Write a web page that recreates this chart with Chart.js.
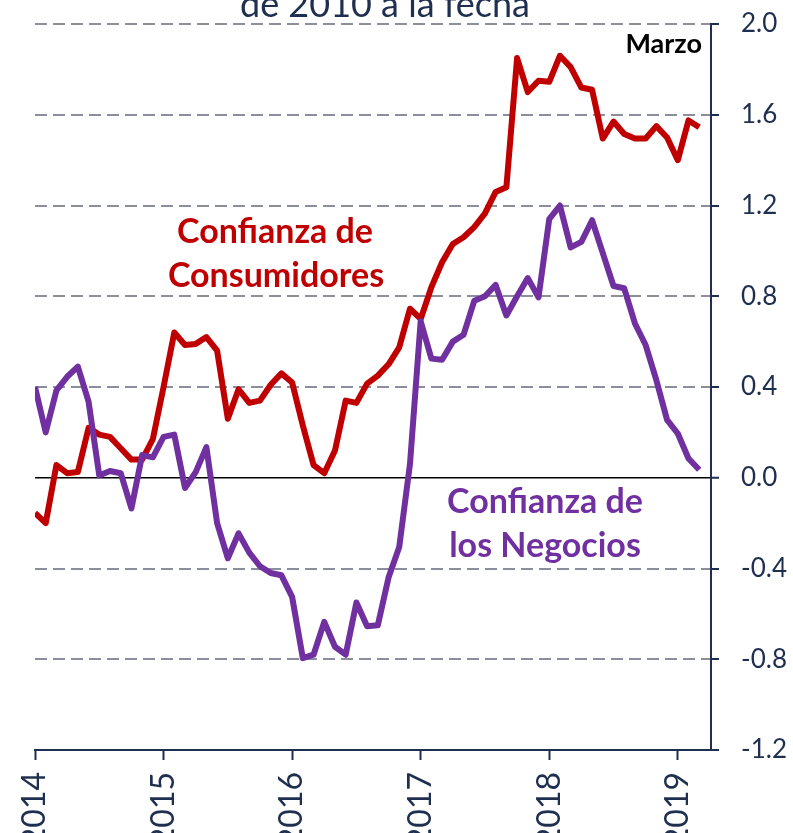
<!DOCTYPE html>
<html>
<head>
<meta charset="utf-8">
<script src="https://cdn.jsdelivr.net/npm/chart.js@4.4.1/dist/chart.umd.min.js"></script>
<style>
  html, body { margin: 0; padding: 0; background: #fff; }
  #wrap { width: 793px; height: 833px; }
</style>
</head>
<body>
<div id="wrap"><canvas id="chart" width="793" height="833"></canvas></div>
<script>
// monthly, Jan 2014 .. Mar 2019
const years = ["2014", "2015", "2016", "2017", "2018", "2019"];
const consumers = [-0.155, -0.20, 0.056, 0.02, 0.025, 0.22, 0.19, 0.18, 0.13, 0.08, 0.08, 0.17,
  0.40, 0.64, 0.585, 0.59, 0.62, 0.56, 0.26, 0.39, 0.33, 0.34, 0.41, 0.46,
  0.42, 0.23, 0.056, 0.02, 0.12, 0.34, 0.33, 0.415, 0.45, 0.50, 0.575, 0.745,
  0.70, 0.84, 0.95, 1.03, 1.06, 1.105, 1.165, 1.26, 1.28, 1.85, 1.70, 1.75,
  1.745, 1.86, 1.81, 1.72, 1.71, 1.495, 1.57, 1.515, 1.495, 1.495, 1.55, 1.50,
  1.40, 1.575, 1.545];
const business = [0.40, 0.20, 0.385, 0.445, 0.49, 0.335, 0.01, 0.03, 0.02, -0.135, 0.10, 0.09,
  0.18, 0.19, -0.045, 0.025, 0.135, -0.20, -0.355, -0.245, -0.33, -0.39, -0.42, -0.43,
  -0.525, -0.795, -0.78, -0.635, -0.745, -0.78, -0.55, -0.655, -0.65, -0.44, -0.305, 0.06,
  0.69, 0.525, 0.52, 0.60, 0.63, 0.78, 0.80, 0.85, 0.715, 0.80, 0.88, 0.795,
  1.14, 1.20, 1.015, 1.04, 1.135, 0.99, 0.845, 0.835, 0.68, 0.585, 0.43, 0.255,
  0.195, 0.085, 0.035];

const navy = "#1f2f4f";
const red = "#c00000";
const purple = "#7030a0";
const gridGray = "#8c8f9b";

const isZero = c => c.tick && Math.abs(c.tick.value) < 1e-6;
const isBottom = c => c.tick && c.tick.value < -1.19;

// titles / series labels drawn on top of the chart
const annotations = {
  id: "annotations",
  afterDraw(chart) {
    const ctx = chart.ctx;
    ctx.save();
    ctx.textBaseline = "alphabetic";
    ctx.textAlign = "center";

    ctx.fillStyle = navy;
    ctx.font = "36px Lato";
    ctx.fillText("de 2010 a la fecha", 385, 17);

    ctx.font = "bold 34px Lato";
    ctx.fillStyle = red;
    ctx.fillText("Confianza de", 275, 243);
    ctx.fillText("Consumidores", 276, 287);

    ctx.fillStyle = purple;
    ctx.fillText("Confianza de", 545, 513);
    ctx.fillText("los Negocios", 545, 557);

    ctx.textAlign = "right";
    ctx.fillStyle = "#000";
    ctx.font = "bold 27px Lato";
    ctx.fillText("Marzo", 702, 53);
    ctx.restore();
  }
};

function makeChart() {
  new Chart(document.getElementById("chart"), {
    type: "line",
    data: {
      datasets: [
        {
          label: "Confianza de los Negocios",
          data: business.map((v, i) => ({ x: i, y: v })),
          borderColor: purple,
          borderWidth: 6,
          pointRadius: 0,
          borderJoinStyle: "round",
          order: 0
        },
        {
          label: "Confianza de Consumidores",
          data: consumers.map((v, i) => ({ x: i, y: v })),
          borderColor: red,
          borderWidth: 6,
          pointRadius: 0,
          borderJoinStyle: "round",
          order: 1
        }
      ]
    },
    options: {
      responsive: false,
      animation: false,
      layout: { padding: { left: 35, top: 24, right: 0, bottom: 0 } },
      plugins: {
        legend: { display: false },
        tooltip: { enabled: false },
        title: { display: false }
      },
      scales: {
        x: {
          type: "linear",
          min: 0,
          max: 63.1,
          afterBuildTicks: s => { s.ticks = years.map((_, i) => ({ value: i * 12 })); },
          afterFit: s => { s.height = 83; },
          ticks: {
            autoSkip: false,
            minRotation: 90,
            maxRotation: 90,
            padding: 12,
            color: navy,
            font: { family: "Lato", size: 32 },
            callback: v => years[Math.round(v / 12)]
          },
          grid: { drawOnChartArea: false, tickLength: 10, tickWidth: 2, tickColor: navy },
          border: { color: navy, width: 2 }
        },
        y: {
          position: "right",
          min: -1.2,
          max: 2.0,
          afterFit: s => { s.width = 82; s.paddingTop = 0; s.paddingBottom = 0; },
          ticks: {
            stepSize: 0.4,
            padding: 22,
            color: navy,
            font: { family: "Lato", size: 26 },
            callback: v => (Math.abs(v) < 1e-6 ? 0 : v).toFixed(1)
          },
          grid: {
            color: c => isZero(c) ? "#000" : (isBottom(c) ? "rgba(0,0,0,0)" : gridGray),
            lineWidth: c => isZero(c) ? 1.5 : 2,
            tickColor: navy,
            tickLength: 8,
            tickWidth: 2
          },
          border: {
            color: navy,
            width: 2,
            dash: c => (c.tick && !isZero(c)) ? [12, 6] : []
          }
        }
      }
    },
    plugins: [annotations]
  });
}

Promise.all([
  document.fonts.load("26px Lato"),
  document.fonts.load("bold 26px Lato")
]).then(makeChart, makeChart);
</script>
</body>
</html>
